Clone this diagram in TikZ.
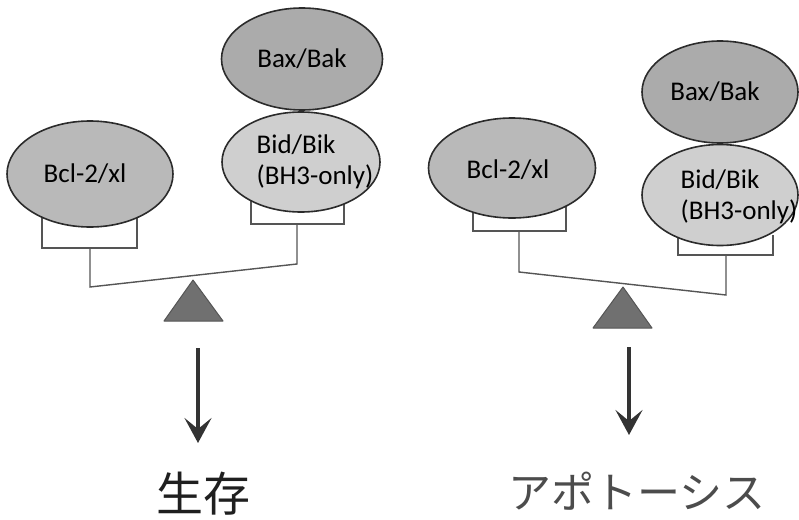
\documentclass[tikz,border=0pt]{standalone}
\usepackage{xcolor}
\usepackage{fontspec}
\setmainfont{Carlito}
\newfontfamily\jpfont{Noto Sans CJK JP}
\usepackage{tikz}
\usetikzlibrary{shapes.geometric,arrows.meta}

\definecolor{baxgray}{HTML}{ABABAB}
\definecolor{bclgray}{HTML}{B9B9B9}
\definecolor{bidgray}{HTML}{CFCFCF}
\definecolor{edgegray}{HTML}{2B2B2B}
\definecolor{armgray}{HTML}{555555}
\definecolor{pivotgray}{HTML}{707070}

\begin{document}
\begin{tikzpicture}[x=1pt,y=-1pt,
    blob/.style={ellipse, draw=edgegray, line width=1.6pt, inner sep=0pt},
    lbl/.style={font=\fontsize{27}{31}\selectfont, align=left, inner sep=0pt},
    arm/.style={draw=armgray, line width=1.4pt, line join=miter},
    pivot/.style={fill=pivotgray, draw=armgray, line width=1pt, line join=round},
    fate/.style={draw=black!80, line width=3.6pt,
        -{Stealth[length=25pt,width=27pt,inset=11pt]}}]
    \useasboundingbox (0,0) rectangle (799,519);

    % Left balance: beam tips towards Bcl-2/xl
    \draw[arm] (42,205) -- (42,248) -- (137,248) -- (137,205);
    \draw[arm] (251,195) -- (251,224) -- (344,224) -- (344,195);
    \coordinate (lpanL) at (90,248);
    \coordinate (lendL) at (90,287);
    \coordinate (lendR) at (297,264);
    \coordinate (lpanR) at (297,224);
    \draw[arm] (lpanL) -- (lendL) -- (lendR) -- (lpanR);

    \node[blob, fill=bclgray, minimum width=166, minimum height=106] (lbcl) at (90,174) {};
    \node[lbl] (lbcltxt) at ([xshift=-5]lbcl.center) {Bcl-2/xl};
    \node[blob, fill=baxgray, minimum width=161, minimum height=102] (lbax) at (302,59) {};
    \node[lbl] (lbaxtxt) at (lbax.center) {Bax/Bak};
    \node[blob, fill=bidgray, minimum width=158, minimum height=100] (lbid) at (301,162) {};
    \node[lbl] (lbidtxt) at ([xshift=14]lbid.center) {Bid/Bik\\(BH3-only)};

    \draw[pivot] (193,280) -- (164,321) -- (223,321) -- cycle;

    % Right balance: beam tips towards Bid/Bik
    \draw[arm] (473,200) -- (473,231) -- (566,231) -- (566,200);
    \draw[arm] (678,235) -- (678,255) -- (773,255) -- (773,235);
    \coordinate (rpanL) at (519,231);
    \coordinate (rendL) at (519,272);
    \coordinate (rendR) at (726,295);
    \coordinate (rpanR) at (726,255);
    \draw[arm] (rpanL) -- (rendL) -- (rendR) -- (rpanR);

    \node[blob, fill=bclgray, minimum width=167, minimum height=100] (rbcl) at (512,168) {};
    \node[lbl] (rbcltxt) at ([xshift=-4,yshift=-2]rbcl.center) {Bcl-2/xl};
    \node[blob, fill=baxgray, minimum width=156, minimum height=102] (rbax) at (720,92) {};
    \node[lbl] (rbaxtxt) at ([xshift=-5]rbax.center) {Bax/Bak};
    \node[blob, fill=bidgray, minimum width=156, minimum height=101] (rbid) at (720,195) {};
    \node[lbl] (rbidtxt) at ([xshift=19,yshift=-2]rbid.center) {Bid/Bik\\(BH3-only)};

    \draw[pivot] (623,287) -- (593,328) -- (652,328) -- cycle;

    % Outcomes
    \node[font=\jpfont\fontsize{47}{47}\selectfont, text=black!88, inner sep=0pt] (survive) at (203,494) {生存};
    \node[font=\jpfont\fontsize{43}{43}\selectfont, text=black!70, inner sep=0pt] (apop) at (637,491) {アポトーシス};
    \coordinate (lfrom) at (198,348);
    \coordinate (lto) at (198,443);
    \coordinate (rfrom) at (629,347);
    \coordinate (rto) at (629,435);
    \draw[fate] (lfrom) -- (lto);
    \draw[fate] (rfrom) -- (rto);
\end{tikzpicture}
\end{document}
